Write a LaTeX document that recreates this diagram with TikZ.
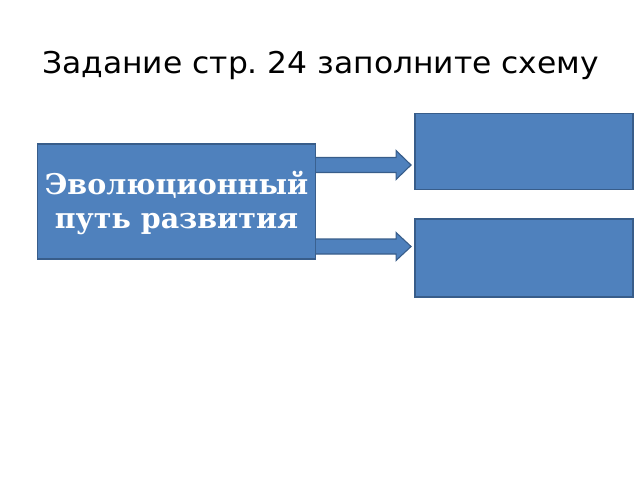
\documentclass[tikz,border=0pt]{standalone}
\usepackage{fontspec}
\setmainfont{DejaVu Sans}
\newfontfamily\titlefont[FakeStretch=1.045]{DejaVu Sans}
\newfontfamily\boxfont{DejaVu Serif}
\usetikzlibrary{calc}
\definecolor{boxfill}{HTML}{4F81BD}
\definecolor{boxline}{HTML}{385D8A}
\frenchspacing
\begin{document}
\begin{tikzpicture}[x=1pt,y=-1pt,
  bluebox/.style={draw=boxline,fill=boxfill,line width=1.3pt,inner sep=0pt},
  blockarrow/.style={draw=boxline,fill=boxfill,line width=1.1pt,line join=miter}]
\useasboundingbox (0,0) rectangle (640,480);
\node[anchor=base west,inner sep=0pt,font=\titlefont\fontsize{30}{34}\selectfont] (title) at (42,73) {Задание стр. 24 заполните схему};
\node[bluebox,minimum width=277.5pt,minimum height=115pt] (main) at (176.5,201.5) {};
\node[text=white,align=center,inner sep=0pt,font=\boxfont\bfseries\fontsize{28.5}{33.3}\selectfont] (maintext) at ($(main.center)+(0,1.5)$) {Эволюционный\\путь развития};
\node[bluebox,minimum width=218pt,minimum height=76.5pt] (r1) at (524,151.5) {};
\node[bluebox,minimum width=218pt,minimum height=78pt] (r2) at (524,258) {};
% arrows
\coordinate (a1s) at (main.east |- 0,165);
\coordinate (a1e) at ($(r1.west |- 0,165)+(-3.3,0)$);
\coordinate (a2s) at (main.east |- 0,246.5);
\coordinate (a2e) at ($(r2.west |- 0,246.5)+(-3.3,0)$);
\draw[blockarrow] ($(a1s)+(0,-7.5)$) -- ($(a1e)+(-15,-7.5)$) -- ($(a1e)+(-15,-14.5)$) -- (a1e) -- ($(a1e)+(-15,14.5)$) -- ($(a1e)+(-15,7.5)$) -- ($(a1s)+(0,7.5)$);
\draw[blockarrow] ($(a2s)+(0,-7.5)$) -- ($(a2e)+(-15,-7.5)$) -- ($(a2e)+(-15,-14)$) -- (a2e) -- ($(a2e)+(-15,14)$) -- ($(a2e)+(-15,7.5)$) -- ($(a2s)+(0,7.5)$);
\end{tikzpicture}
\end{document}
